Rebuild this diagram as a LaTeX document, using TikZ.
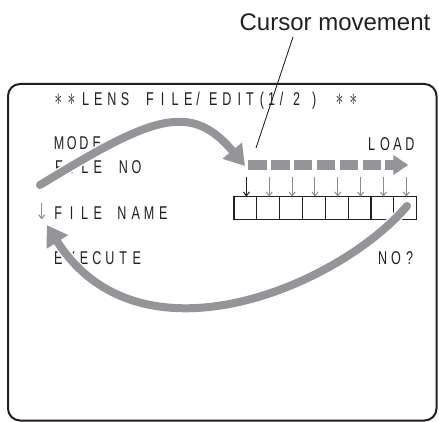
\documentclass[tikz,border=0pt]{standalone}
\usepackage{fontspec}
\setmainfont{Liberation Sans}
\newfontfamily\scrfont[FakeStretch=0.68]{Liberation Sans}
\usetikzlibrary{arrows.meta}
\definecolor{arrowgray}{RGB}{147,149,152}
\definecolor{tickgray}{RGB}{140,140,140}
\definecolor{inkblack}{RGB}{35,31,32}
\def\mysl{/}
\begin{document}
\begin{tikzpicture}[x=1pt,y=-1pt,
  scr/.style={font=\scrfont\fontsize{18.5}{18.5}\selectfont, inner sep=0pt, anchor=base, text=inkblack},
  star/.style={font=\fontsize{25}{25}\selectfont, inner sep=0pt, anchor=center, text=inkblack},
  cell/.style={draw=inkblack, line width=1.2pt, minimum width=22.84pt, minimum height=22.6pt, inner sep=0pt, outer sep=0pt},
  tick/.style={tickgray, line width=1pt, -{Straight Barb[length=4pt,width=6pt]}},
  bigarrow/.style={arrowgray, line width=8pt, line cap=round, -{Triangle[length=20pt,width=24pt]},
     preaction={draw=white, line width=11pt, line cap=round, -{Triangle[length=20pt,width=24pt]}}},
  cursorarrow/.style={arrowgray, line width=10pt, line cap=butt, dash pattern=on 18.4pt off 4.44pt, -{Triangle[length=15pt,width=19pt]}}
]
\useasboundingbox (0,0) rectangle (439,422);

% frame
\draw[inkblack, line width=2pt, rounded corners=12pt] (8,84) rectangle (436.5,420.5);

% caption
\node[font=\fontsize{24}{24}\selectfont, inner sep=0pt, anchor=base, text=inkblack] (caption) at (335,31) {Cursor movement};

% title row
\foreach \x [count=\i] in {58.3,71.5,339.7,353.3}
  \node[star] (st\i) at (\x,100) {\scalebox{0.6}[1]{$\ast$}};
\foreach \x/\c [count=\i] in {85.5/L,98.3/E,111.8/N,125/S,150/F,162.7/I,175/L,188.3/E,198/\mysl,213.3/E,227/D,239.3/I,250/T,262/{(},271.5/1,281.7/\mysl,296.7/2,314.3/{)}}
  \node[scr] (ti\i) at (\x,106) {\c};

% MODE
\foreach \x/\c [count=\i] in {59.2/M,71.7/O,83.8/D,96.7/E}
  \node[scr] (mo\i) at (\x,150) {\c};
% FILE NO
\foreach \x/\c [count=\i] in {59/F,71.9/I,84.8/L,97.7/E,123.5/N,136.4/O}
  \node[scr] (fn\i) at (\x,173.3) {\c};
% FILE NAME
\foreach \x/\c [count=\i] in {58.3/F,71.5/I,84.7/L,97.9/E,122/N,135.8/A,149/M,163.3/E}
  \node[scr] (fm\i) at (\x,219) {\c};
% EXECUTE
\foreach \x/\c [count=\i] in {58.3/E,71/X,84/E,97/C,110/U,123.3/T,136.7/E}
  \node[scr] (ex\i) at (\x,265) {\c};
% LOAD
\foreach \x/\c [count=\i] in {371.7/L,385/O,397.5/A,410/D}
  \node[scr] (ld\i) at (\x,150.7) {\c};
% NO?
\foreach \x/\c [count=\i] in {382.7/N,396/O,409.7/?}
  \node[scr] (nq\i) at (\x,264.3) {\c};

% cells
\foreach \i in {0,...,7}
  \node[cell] (c\i) at ({245.42+22.84*\i},208) {};

% small down arrows
\draw[tick, inkblack] ([xshift=1pt,yshift=20pt]c0.north) -- ([xshift=1pt]c0.north);
\foreach \i in {1,...,7}
  \draw[tick] ([xshift=1pt,yshift=20pt]c\i.north) -- ([xshift=1pt]c\i.north);

% left small arrow
\coordinate (fa0) at (41.7,203);
\coordinate (fa1) at (41.7,219.5);
\draw[tick] (fa0) -- (fa1);

% cursor arrow
\coordinate (cur0) at (248.3,165);
\coordinate (cur1) at (408.3,165);
\draw[cursorarrow] (cur0) -- (cur1);

% curved arrows
\coordinate (la0) at (40,185);
\coordinate (la1) at (245,166);
\draw[bigarrow] (la0) .. controls (150,118) and (190,100) .. (la1);
\coordinate (ba0) at (407,206);
\coordinate (ba1) at (46.7,225);
\draw[bigarrow] (ba0) .. controls (340,285) and (140,372) .. (ba1);

% leader line
\coordinate (lead0) at (293,37);
\coordinate (lead1) at (256,148);
\draw[inkblack, line width=0.9pt] (lead0) -- (lead1);
\end{tikzpicture}
\end{document}
